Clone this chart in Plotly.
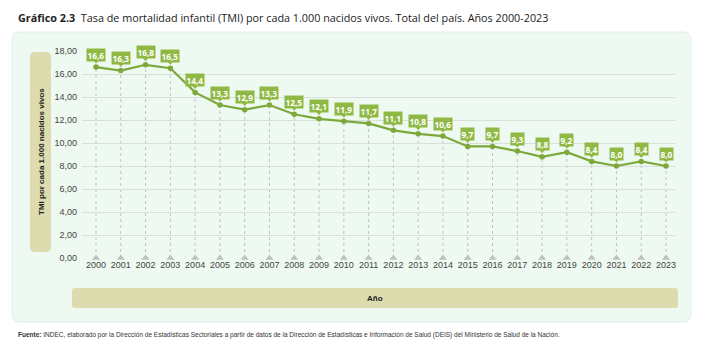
import plotly.graph_objects as go

years = list(range(2000, 2024))
tmi = [16.6, 16.3, 16.8, 16.5, 14.4, 13.3, 12.9, 13.3, 12.5, 12.1, 11.9, 11.7,
       11.1, 10.8, 10.6, 9.7, 9.7, 9.3, 8.8, 9.2, 8.4, 8.0, 8.4, 8.0]
y_ticks = [0, 2, 4, 6, 8, 10, 12, 14, 16, 18]

title_bold = "Gráfico 2.3"
title_rest = "Tasa de mortalidad infantil (TMI) por cada 1.000 nacidos vivos. Total del país. Años 2000-2023"
y_title = "TMI por cada 1.000 nacidos vivos"
x_title = "Año"
source_bold = "Fuente:"
source_rest = (" INDEC, elaborado por la Dirección de Estadísticas Sectoriales a partir de datos de la "
               "Dirección de Estadísticas e Información de Salud (DEIS) del Ministerio de Salud de la Nación.")

# page has an 8px body margin: work in reference screen pixels and shift
OFF = 8
W, H = 710, 357
PL, PR, PT, PB = 82, 675, 51, 258      # plot area in screen pixels
L, T = PL - OFF, PT - OFF
R, B = W - (PR - OFF), H - (PB - OFF)
PW, PH = PR - PL, PB - PT

def px(x):
    return (x - PL) / PW

def py(y):
    return (PB - y) / PH

GREEN = "#7da83b"
BOX = "#8fb944"
KHAKI = "#dcdcae"

fig = go.Figure()

fig.add_trace(go.Scatter(x=years, y=[0] * len(years), mode="markers",
                         marker=dict(symbol="triangle-up", size=7, color="#bcc3bc"),
                         hoverinfo="skip", cliponaxis=False, showlegend=False))
fig.add_trace(go.Scatter(x=years, y=tmi, mode="lines+markers",
                         line=dict(color=GREEN, width=2.2),
                         marker=dict(size=5.5, color=GREEN),
                         cliponaxis=False, showlegend=False))

shapes = []

def rounded(x0, y0, x1, y1, r):
    rx = r / PW
    ry = r / PH
    X0, X1 = px(x0), px(x1)
    Y0, Y1 = py(y0), py(y1)
    return (f"M {X0+rx},{Y0} L {X1-rx},{Y0} Q {X1},{Y0} {X1},{Y0-ry} "
            f"L {X1},{Y1+ry} Q {X1},{Y1} {X1-rx},{Y1} L {X0+rx},{Y1} "
            f"Q {X0},{Y1} {X0},{Y1+ry} L {X0},{Y0-ry} Q {X0},{Y0} {X0+rx},{Y0} Z")

shapes.append(dict(type="path", xref="paper", yref="paper", path=rounded(12, 32, 691, 322, 8),
                   fillcolor="#eefaf1", line=dict(color="#e3efe3", width=1), layer="below"))
shapes.append(dict(type="path", xref="paper", yref="paper", path=rounded(30, 52, 51, 252, 5),
                   fillcolor=KHAKI, line=dict(width=0), layer="below"))
shapes.append(dict(type="path", xref="paper", yref="paper", path=rounded(72, 288, 678, 308, 3),
                   fillcolor=KHAKI, line=dict(width=0), layer="below"))

for yr, v in zip(years, tmi):
    shapes.append(dict(type="line", xref="x", yref="y", x0=yr, x1=yr, y0=0, y1=v,
                       line=dict(color="#bcc4bc", width=1, dash="dot"), layer="below"))
    # small pointer below each value box
    shapes.append(dict(type="path", xref="x", yref="y",
                       xsizemode="pixel", xanchor=yr, ysizemode="pixel", yanchor=v,
                       path="M -3,7 L 3,7 L 0,3.5 Z",
                       fillcolor=BOX, line=dict(width=0), layer="above"))

annotations = []
for yr, v in zip(years, tmi):
    annotations.append(dict(x=yr, y=v, xref="x", yref="y",
                            text="<b>" + f"{v:.1f}".replace(".", ",") + "</b>",
                            showarrow=False, bgcolor=BOX, borderpad=0.5,
                            font=dict(size=8.3, color="white", family="Noto Sans"), yshift=12.5))

annotations += [
    dict(x=px(16), y=py(7.5), xref="paper", yref="paper", xanchor="left", yanchor="top",
         showarrow=False, text=f"<b>{title_bold}</b>  {title_rest}",
         font=dict(size=10.8, color="#222", family="Open Sans")),
    dict(x=px(41), y=py(152), xref="paper", yref="paper", xanchor="center", yanchor="middle",
         showarrow=False, text=f"<b>{y_title}</b>", textangle=-90,
         font=dict(size=8, color="#222", family="Liberation Sans")),
    dict(x=px(375), y=py(298), xref="paper", yref="paper", xanchor="center", yanchor="middle",
         showarrow=False, text=f"<b>{x_title}</b>",
         font=dict(size=8, color="#222", family="Liberation Sans")),
    dict(x=px(16), y=py(335), xref="paper", yref="paper", xanchor="left", yanchor="middle",
         showarrow=False, text=f"<b>{source_bold}</b>{source_rest}",
         font=dict(size=6.5, color="#333", family="Liberation Sans")),
]

fig.update_layout(
    width=W, height=H, margin=dict(l=L, r=R, t=T, b=B),
    paper_bgcolor="white", plot_bgcolor="rgba(0,0,0,0)",
    separators=",.",
    shapes=shapes, annotations=annotations,
    xaxis=dict(range=[1999.435, 2023.363], tickmode="array", tickvals=years,
               ticktext=[str(y) for y in years], showgrid=False, zeroline=False,
               showline=False, ticks="", tickfont=dict(size=9, color="#444", family="Liberation Sans")),
    yaxis=dict(range=[0, 18], tickmode="array", tickvals=y_ticks, tickformat=".2f",
               showgrid=True, gridcolor="#d9dfd9", gridwidth=1, zeroline=False,
               showline=False, ticks="", ticklabelstandoff=4,
               tickfont=dict(size=9, color="#444", family="Liberation Sans")),
)

fig.write_html("out.html")
